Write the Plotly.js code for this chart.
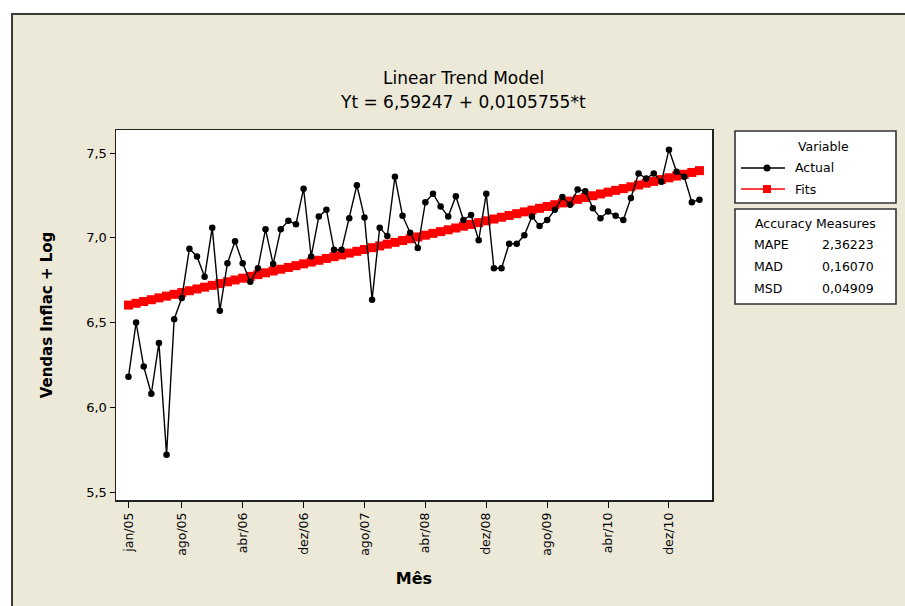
<!DOCTYPE html>
<html><head><meta charset="utf-8">
<script src="https://cdn.plot.ly/plotly-3.0.1.min.js"></script>
<style>
html,body{margin:0;padding:0;background:#fff;width:905px;height:606px;overflow:hidden;}
#bg{position:absolute;left:11px;top:13px;width:894px;height:593px;background:#ECE9D8;border-left:2px solid #3a3a3a;border-top:2px solid #3a3a3a;box-sizing:border-box;}
#chart{position:absolute;left:0;top:0;width:905px;height:606px;}
</style></head><body>
<div id="bg"></div><div id="chart"></div>
<script>
const months = [
 'jan/05','fev/05','mar/05','abr/05','mai/05','jun/05','jul/05','ago/05','set/05','out/05','nov/05','dez/05',
 'jan/06','fev/06','mar/06','abr/06','mai/06','jun/06','jul/06','ago/06','set/06','out/06','nov/06','dez/06',
 'jan/07','fev/07','mar/07','abr/07','mai/07','jun/07','jul/07','ago/07','set/07','out/07','nov/07','dez/07',
 'jan/08','fev/08','mar/08','abr/08','mai/08','jun/08','jul/08','ago/08','set/08','out/08','nov/08','dez/08',
 'jan/09','fev/09','mar/09','abr/09','mai/09','jun/09','jul/09','ago/09','set/09','out/09','nov/09','dez/09',
 'jan/10','fev/10','mar/10','abr/10','mai/10','jun/10','jul/10','ago/10','set/10','out/10','nov/10','dez/10',
 'jan/11','fev/11','mar/11','abr/11'
];
const actual = [
 6.18,6.50,6.24,6.08,6.38,5.72,6.52,6.645,6.935,6.89,6.77,7.06,
 6.57,6.85,6.98,6.85,6.74,6.82,7.05,6.845,7.05,7.10,7.08,7.29,
 6.89,7.125,7.165,6.93,6.93,7.115,7.31,7.12,6.635,7.06,7.01,7.36,
 7.13,7.03,6.94,7.21,7.26,7.185,7.125,7.245,7.105,7.135,6.985,7.26,
 6.82,6.82,6.965,6.965,7.015,7.125,7.07,7.105,7.165,7.24,7.195,7.285,
 7.275,7.175,7.115,7.155,7.13,7.105,7.235,7.38,7.35,7.38,7.33,7.52,
 7.39,7.36,7.21,7.225
];
const fits = [
 6.6030,6.6136,6.6242,6.6348,6.6454,6.6559,6.6665,6.6771,6.6877,6.6982,6.7088,6.7194,
 6.7300,6.7405,6.7511,6.7617,6.7723,6.7828,6.7934,6.8040,6.8146,6.8251,6.8357,6.8463,
 6.8569,6.8674,6.8780,6.8886,6.8992,6.9097,6.9203,6.9309,6.9415,6.9520,6.9626,6.9732,
 6.9838,6.9943,7.0049,7.0155,7.0261,7.0366,7.0472,7.0578,7.0684,7.0789,7.0895,7.1001,
 7.1107,7.1212,7.1318,7.1424,7.1530,7.1635,7.1741,7.1847,7.1953,7.2058,7.2164,7.2270,
 7.2376,7.2481,7.2587,7.2693,7.2799,7.2904,7.3010,7.3116,7.3222,7.3327,7.3433,7.3539,
 7.3645,7.3750,7.3856,7.3962
];
const xTicks = ['jan/05','ago/05','abr/06','dez/06','ago/07','abr/08','dez/08','ago/09','abr/10','dez/10'];
const measureNames = ['MAPE','MAD','MSD'];
const measureValues = ['2,36223','0,16070','0,04909'];

const FONT = 'DejaVu Sans';
const traces = [
 {x: months, y: fits, type:'scatter', mode:'lines+markers', name:'Fits',
  line:{color:'#ff0000', width:4}, marker:{symbol:'square', size:9, color:'#ff0000'}},
 {x: months, y: actual, type:'scatter', mode:'lines+markers', name:'Actual',
  line:{color:'#000000', width:1.4}, marker:{symbol:'circle', size:6.5, color:'#000000'}}
];

// pixel -> paper helpers for decorations (plot area: x 116..712, y 130..500)
const L=116, R=712, T=130, B=500;
const px = v => (v-L)/(R-L);
const py = v => (B-v)/(B-T);

const shapes = [
 {type:'rect', xref:'paper', yref:'paper', x0:px(735), x1:px(896), y0:py(131), y1:py(203), fillcolor:'#ffffff', line:{color:'#333', width:1.6}},
 {type:'rect', xref:'paper', yref:'paper', x0:px(735), x1:px(896), y0:py(209), y1:py(304), fillcolor:'#ffffff', line:{color:'#333', width:1.6}},
 {type:'line', xref:'paper', yref:'paper', x0:px(741), x1:px(785), y0:py(168), y1:py(168), line:{color:'#000', width:1.4}},
 {type:'circle', xref:'paper', yref:'paper', xsizemode:'pixel', ysizemode:'pixel', xanchor:px(767), yanchor:py(168), x0:-3.5, x1:3.5, y0:-3.5, y1:3.5, fillcolor:'#000', line:{color:'#000', width:0}},
 {type:'line', xref:'paper', yref:'paper', x0:px(741), x1:px(785), y0:py(189), y1:py(189), line:{color:'#ff0000', width:1.4}},
 {type:'rect', xref:'paper', yref:'paper', xsizemode:'pixel', ysizemode:'pixel', xanchor:px(767), yanchor:py(189), x0:-4, x1:4, y0:-4, y1:4, fillcolor:'#ff0000', line:{color:'#ff0000', width:0}}
];

const ann = (text, x, y, xanchor, size, extra) => Object.assign({
  text, xref:'paper', yref:'paper', x:px(x), y:py(y), xanchor, yanchor:'middle',
  showarrow:false, font:{family:FONT, size, color:'#000'}}, extra||{});

const annotations = [
 ann('Linear Trend Model', 463, 78, 'center', 17),
 ann('Yt = 6,59247 + 0,0105755*t', 463, 102, 'center', 17),
 ann('Variable', 823, 146, 'center', 12.5),
 ann('Actual', 793, 168, 'left', 12.5),
 ann('Fits', 793, 189, 'left', 12.5),
 ann('Accuracy Measures', 815, 223, 'center', 12.5)
];
const rowsY = [244, 266, 288];
measureNames.forEach((n,i)=>{
  annotations.push(ann(n, 752, rowsY[i], 'left', 12.5));
  annotations.push(ann(measureValues[i], 820, rowsY[i], 'left', 12.5));
});

const layout = {
 width:905, height:606,
 margin:{l:L, r:905-R, t:T, b:606-B, pad:0},
 paper_bgcolor:'rgba(0,0,0,0)', plot_bgcolor:'#ffffff',
 separators:',.',
 showlegend:false,
 font:{family:FONT, color:'#000'},
 xaxis:{type:'category', categoryorder:'array', categoryarray:months,
   range:[-1.64, 76.65], tickmode:'array', tickvals:xTicks, ticktext:xTicks,
   tickangle:-90, ticks:'outside', ticklen:6, tickcolor:'#000', tickwidth:1,
   tickfont:{family:FONT, size:12.5, color:'#000'},
   showgrid:false, zeroline:false, showline:true, linecolor:'#222', linewidth:1.5, mirror:true,
   automargin:false,
   title:{text:'Mês', font:{family:FONT, size:16, color:'#000', weight:'bold'}, standoff:18}},
 yaxis:{range:[5.453, 7.636], tick0:5.5, dtick:0.5, tickformat:'.1f',
   ticks:'outside', ticklen:5, tickcolor:'#000', tickwidth:1,
   tickfont:{family:FONT, size:13, color:'#000'},
   showgrid:false, zeroline:false, showline:true, linecolor:'#222', linewidth:1.5, mirror:true,
   automargin:false,
   title:{text:'Vendas Inflac + Log', font:{family:FONT, size:15, color:'#000', weight:'bold'}, standoff:30}},
 shapes, annotations
};
Plotly.newPlot('chart', traces, layout, {displayModeBar:false, staticPlot:true});
</script>
</body></html>
